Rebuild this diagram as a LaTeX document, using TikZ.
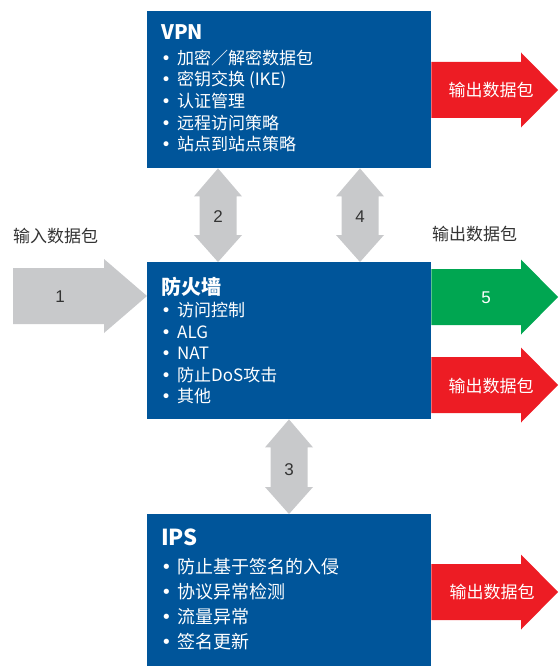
\documentclass[tikz,border=0pt]{standalone}
\usepackage{fontspec}
\setmainfont{Noto Sans CJK SC}
\newfontfamily\digitfont{Liberation Sans}
\newfontfamily\bulletfont{DejaVu Sans}
\usetikzlibrary{calc}
\definecolor{boxblue}{HTML}{00559A}
\definecolor{outred}{HTML}{ED1C24}
\definecolor{outgreen}{HTML}{00A651}
\definecolor{flowgray}{HTML}{C8C9CB}
\definecolor{labelgray}{HTML}{333333}
\newcommand\bul{\makebox[16pt][l]{\bulletfont •}}
% right block arrow: #1 colour, #2 tail, #3 tip, #4 shaft half, #5 head half, #6 head length
\newcommand\rblock[6]{\fill[#1] ($(#2)+(0,-#4)$) -- ($(#3)+(-#6,-#4)$) -- ($(#3)+(-#6,-#5)$) -- (#3)
  -- ($(#3)+(-#6,#5)$) -- ($(#3)+(-#6,#4)$) -- ($(#2)+(0,#4)$) -- cycle;}
% vertical double block arrow: #1 top, #2 bottom
\newcommand\vblock[2]{\fill[flowgray] (#1) -- ($(#1)+(24,28)$) -- ($(#1)+(18.5,28)$) -- ($(#2)+(18.5,-27)$)
  -- ($(#2)+(24,-27)$) -- (#2) -- ($(#2)+(-24,-27)$) -- ($(#2)+(-18.5,-27)$) -- ($(#1)+(-18.5,28)$)
  -- ($(#1)+(-24,28)$) -- cycle;}
\tikzset{
  panel/.style={fill=boxblue, minimum width=284pt, inner sep=0pt, anchor=north west},
  paneltitle/.style={text=white, anchor=base west, inner sep=0pt, font=\bfseries\fontsize{20}{24}\selectfont},
  item/.style={text=white, anchor=base west, inner sep=0pt, font=\fontsize{17}{21}\selectfont},
  bigitem/.style={item, font=\fontsize{18}{22}\selectfont},
  outlabel/.style={text=white, inner sep=0pt, font=\fontsize{17}{21}\selectfont},
  sidelabel/.style={text=labelgray, anchor=west, inner sep=0pt, font=\fontsize{17}{21}\selectfont},
  num/.style={text=labelgray, inner sep=0pt, font=\digitfont\fontsize{17}{20}\selectfont},
}
\begin{document}
\begin{tikzpicture}[x=1pt,y=-1pt]
\useasboundingbox (0,0) rectangle (558,666);
% panels
\node[panel, minimum height=157pt] (vpn) at (147,11) {};
\node[panel, minimum height=157pt] (fw) at (147,262) {};
\node[panel, minimum height=152pt] (ips) at (147,514) {};
% anchor coordinates
\coordinate (a2t) at ($(vpn.south west)+(71,0)$);
\coordinate (a2b) at ($(fw.north west)+(71,0)$);
\coordinate (a4t) at ($(vpn.south west)+(213,0)$);
\coordinate (a4b) at ($(fw.north west)+(213,0)$);
\coordinate (a3t) at ($(fw.south west)+(142,0)$);
\coordinate (a3b) at ($(ips.north west)+(142,0)$);
\coordinate (in1) at (13,296);
\coordinate (in1tip) at ($(fw.north west)+(0,34)$);
\coordinate (vpnout) at ($(vpn.north east)+(0,79)$);
\coordinate (vpntip) at (558,90);
\coordinate (fwok) at ($(fw.north east)+(0,35)$);
\coordinate (fwoktip) at (558,297);
\coordinate (fwout) at ($(fw.north east)+(0,123)$);
\coordinate (fwouttip) at (558,385);
\coordinate (ipsout) at ($(ips.north east)+(0,78)$);
\coordinate (ipstip) at (558,592);
% arrows
\rblock{flowgray}{in1}{in1tip}{28}{37}{43}
\rblock{outred}{vpnout}{vpntip}{28}{37.5}{37}
\rblock{outgreen}{fwok}{fwoktip}{28}{37.5}{37}
\rblock{outred}{fwout}{fwouttip}{28}{37.5}{37}
\rblock{outred}{ipsout}{ipstip}{28}{37.5}{37}
\vblock{a2t}{a2b}
\vblock{a4t}{a4b}
\vblock{a3t}{a3b}
% arrow labels
\node[num] (n1) at (60,297) {1};
\node[num] (n2) at (218,217) {2};
\node[num] (n4) at (360,217) {4};
\node[num] (n3) at (289,470) {3};
\node[num, text=white] (n5) at (486,298) {5};
\node[sidelabel] (inlab) at (13,236) {输入数据包};
\node[sidelabel] (outlab) at (432,234) {输出数据包};
\node[outlabel] (o1) at (491,90) {输出数据包};
\node[outlabel] (o2) at (491,386) {输出数据包};
\node[outlabel] (o3) at (492,592) {输出数据包};
% VPN text
\node[paneltitle] (vpnt) at (161,39.5) {VPN};
\node[item] (v1) at (161,64.5) {\bul 加密／解密数据包};
\node[item] (v2) at (161,86) {\bul 密钥交换 (IKE)};
\node[item] (v3) at (161,107.5) {\bul 认证管理};
\node[item] (v4) at (161,129) {\bul 远程访问策略};
\node[item] (v5) at (161,150.5) {\bul 站点到站点策略};
% firewall text
\node[paneltitle] (fwt) at (161,294.5) {防火墙};
\node[item] (f1) at (161,316.5) {\bul 访问控制};
\node[item] (f2) at (161,338) {\bul ALG};
\node[item] (f3) at (161,359.5) {\bul NAT};
\node[item] (f4) at (161,381) {\bul 防止DoS攻击};
\node[item] (f5) at (161,402.5) {\bul 其他};
% IPS text
\node[paneltitle, font=\bfseries\fontsize{22}{26}\selectfont] (ipst) at (161,545) {IPS};
\node[bigitem] (i1) at (161,573.8) {\bul 防止基于签名的入侵};
\node[bigitem] (i2) at (161,598.8) {\bul 协议异常检测};
\node[bigitem] (i3) at (161,623.8) {\bul 流量异常};
\node[bigitem] (i4) at (161,648.8) {\bul 签名更新};
\end{tikzpicture}
\end{document}
